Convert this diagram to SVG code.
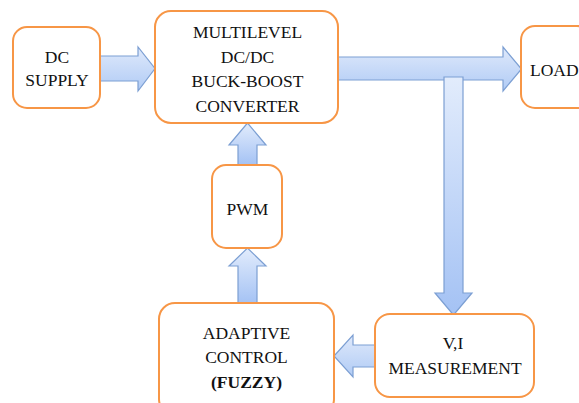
<svg xmlns="http://www.w3.org/2000/svg" width="579" height="403" viewBox="0 0 579 403">
<defs>
<linearGradient id="g" x1="0" y1="0" x2="0" y2="1">
<stop offset="0" stop-color="#e2ecfc"/>
<stop offset="1" stop-color="#a4c2f4"/>
</linearGradient>
<linearGradient id="gh" x1="0" y1="0" x2="0" y2="1">
<stop offset="0" stop-color="#dfe9fb"/>
<stop offset="1" stop-color="#b0cbf5"/>
</linearGradient>
</defs>
<style>
.box{fill:#fff;stroke:#f79646;stroke-width:2}
.t{font-family:"Liberation Serif","Times New Roman",serif;font-size:17.5px;fill:#111;text-anchor:middle}
.b{font-weight:bold}
.ar{fill:url(#g);stroke:#7c9fd3;stroke-width:1.2;stroke-linejoin:miter}
.arh{fill:url(#gh);stroke:#7c9fd3;stroke-width:1.2}
</style>
<rect width="579" height="403" fill="#fff"/>
<g id="connectors">
<polygon class="arh" points="100,56 138,56 138,47 155,68.5 138,91 138,81 100,81"/>
<polygon class="arh" points="338,57 503,57 503,47 521.5,69 503,91 503,80 338,80"/>
<polygon class="ar" points="444,77 463,77 463,293 472,293 453.5,315 435,293 444,293"/>
<polygon class="arh" points="375,345 353,345 353,335 334,356 353,377 353,367 375,367"/>
<polygon class="ar" points="238,165 238,145 229,145 247.5,123 266,145 257,145 257,165"/>
<polygon class="ar" points="238,304 238,266 229,266 247.5,248 266,266 257,266 257,304"/>
</g>
<g id="dc-supply">
<rect class="box" x="13" y="27" width="87" height="81" rx="14"/>
<text class="t" x="57" y="63">DC</text>
<text class="t" x="57" y="86">SUPPLY</text>
</g>
<g id="converter">
<rect class="box" x="155" y="11" width="183" height="112" rx="16"/>
<text class="t" x="247.5" y="38">MULTILEVEL</text>
<text class="t" x="247.5" y="62.5">DC/DC</text>
<text class="t" x="247.5" y="86.5">BUCK-BOOST</text>
<text class="t" x="247.5" y="111.5">CONVERTER</text>
</g>
<g id="load">
<rect class="box" x="521" y="26" width="70" height="82" rx="14"/>
<text class="t" x="530" y="76" style="text-anchor:start">LOAD</text>
</g>
<g id="pwm">
<rect class="box" x="212" y="165" width="70" height="83" rx="14"/>
<text class="t" x="247.5" y="215">PWM</text>
</g>
<g id="adaptive-control">
<rect class="box" x="159" y="303" width="175" height="112" rx="16"/>
<text class="t" x="246.5" y="339">ADAPTIVE</text>
<text class="t" x="246.5" y="363">CONTROL</text>
<text class="t b" x="246.5" y="388">(FUZZY)</text>
</g>
<g id="vi-measurement">
<rect class="box" x="375" y="314" width="159" height="83" rx="15"/>
<text class="t" x="453" y="349">V,I</text>
<text class="t" x="455" y="374">MEASUREMENT</text>
</g>
</svg>
